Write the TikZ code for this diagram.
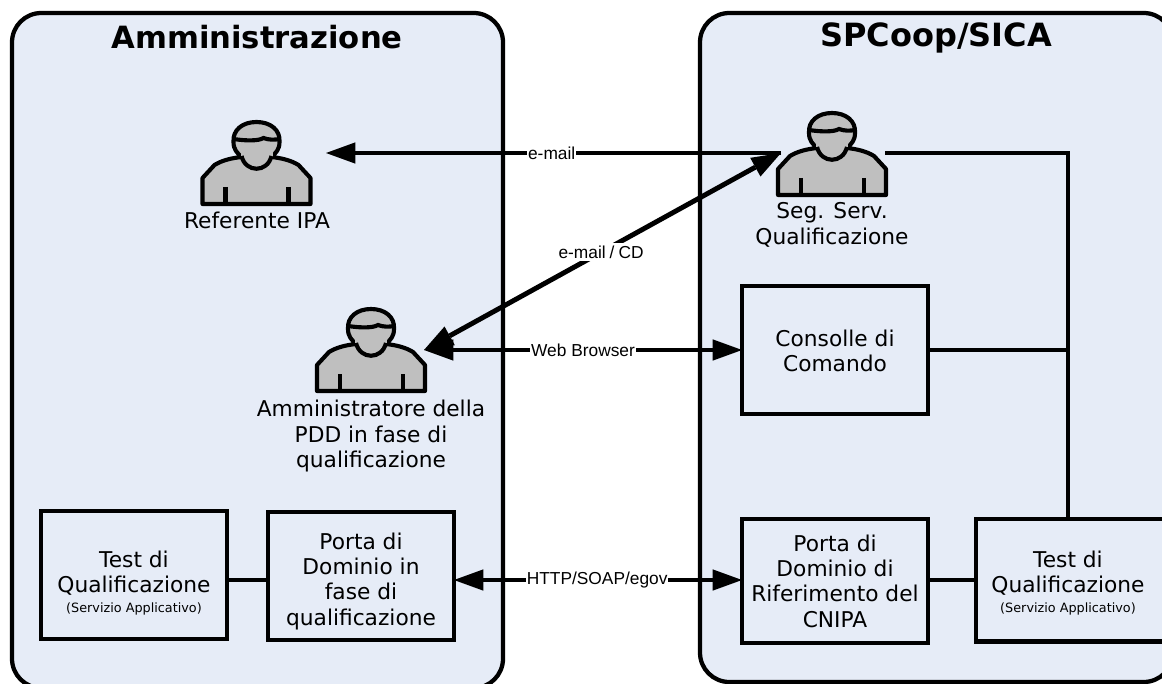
\documentclass[tikz,border=0pt]{standalone}
\usepackage{fontspec}
\setmainfont{DejaVu Sans}
\newfontfamily\labelfont{Liberation Sans}
\usetikzlibrary{arrows.meta}
\definecolor{panelfill}{HTML}{E6ECF7}
\definecolor{persongray}{HTML}{BFBFBF}
\newcommand{\smalltxt}{\fontsize{9.6}{11}\selectfont}
\tikzset{
  x=0.75pt,y=-0.75pt,
  panel/.style={draw=black,line width=3.2pt,fill=panelfill,rounded corners=22pt},
  boxnode/.style={draw=black,line width=3.5pt,fill=panelfill,anchor=north west,inner sep=0pt,outer sep=0pt},
  boxtext/.style={align=center,inner sep=0pt,font=\fontsize{16.3}{19}\selectfont},
  wire/.style={line width=3.7pt,line cap=butt},
  oneway/.style={wire,-{Triangle[length=22pt,width=16pt,line width=0pt]}},
  twoway/.style={wire,{Triangle[length=22pt,width=16pt,line width=0pt]}-{Triangle[length=22pt,width=16pt,line width=0pt]}},
  linklabel/.style={fill=white,inner xsep=0.5pt,inner ysep=1.2pt,font=\labelfont\fontsize{13}{15}\selectfont},
  caption/.style={align=center,font=\fontsize{16.3}{19}\selectfont,inner sep=0pt},
  title/.style={font=\bfseries\fontsize{23}{27}\selectfont,inner sep=0pt,anchor=base},
}
\newcommand{\persondraw}[2]{%
  \begin{scope}[shift={(#1,#2)}]
    \draw[line width=3.1pt,line join=round,fill=persongray]
      (-54,104) -- (-54,78) -- (-42,65) .. controls (-34,60) and (-24,58) .. (-15,57)
      .. controls (-19,53) and (-23,50) .. (-23,42)
      .. controls (-24,30) and (-14,22) .. (0,22)
      .. controls (14,22) and (24,30) .. (23,42)
      .. controls (23,50) and (19,53) .. (15,57)
      .. controls (24,58) and (34,60) .. (42,65) -- (54,78) -- (54,104) -- cycle;
    \fill[persongray] (-16,52) rectangle (16,60);
    \draw[line width=3.1pt,fill=persongray]
      (-15,56) .. controls (-11,73) and (11,73) .. (15,56);
    \draw[line width=3.1pt] (-23,39) .. controls (-10,41) and (2,41) .. (7,38) .. controls (12,40) and (18,40) .. (23,39);
    \draw[line width=3.1pt] (-31,87) -- (-31,104) (32,87) -- (32,104);
  \end{scope}}
\begin{document}
\begin{tikzpicture}
\useasboundingbox (0,0) rectangle (1162,684);
\clip (0,0) rectangle (1162,684);
\draw[panel] (12,13) rectangle (503,688);
\draw[panel] (700,13) rectangle (1173,682);
\node[title] (ta) at (257,49) {Amministrazione};
\node[title,font=\bfseries\fontsize{24}{27}\selectfont] (ts) at (936,47) {SPCoop/SICA};

\persondraw{256.5}{100}
\persondraw{371}{287}
\persondraw{832}{91}

\node[caption] (c1) at (257,220) {Referente IPA};
\node[caption] (c2) at (371,436) {Amministratore della\\PDD in fase di\\qualificazione};
\node[caption] (c3) at (832,225) {Seg. Serv.\\Qualificazione};

\node[boxnode,minimum width=139.5pt,minimum height=96pt] (tl) at (41,511) {};
\node[boxnode,minimum width=139.5pt,minimum height=96pt] (pd) at (268,512) {};
\node[boxnode,minimum width=139.5pt,minimum height=96pt] (cc) at (742,286) {};
\node[boxnode,minimum width=139.5pt,minimum height=93pt] (pr) at (742,519) {};
\node[boxnode,minimum width=142pt,minimum height=92pt] (tr) at (976,519) {};

\node[boxtext] (tlt) at (134,583) {Test di\\Qualificazione\\[-4pt]{\smalltxt (Servizio Applicativo)}};
\node[boxtext] (pdt) at (361,581) {Porta di\\Dominio in\\fase di\\qualificazione};
\node[boxtext] (cct) at (835,351) {Consolle di\\Comando};
\node[boxtext] (prt) at (835,581) {Porta di\\Dominio di\\Riferimento del\\CNIPA};
\node[boxtext] (trt) at (1068,583) {Test di\\Qualificazione\\[-4pt]{\smalltxt (Servizio Applicativo)}};

\coordinate (pa) at (326,153);
\coordinate (ps) at (781,153);
\coordinate (pg) at (424,350);
\coordinate (pw) at (885,153);
\coordinate (j1) at (1068,153);
\coordinate (j2) at (1068,350);

\draw[oneway] (ps) -- (pa) node[linklabel,pos=0.504] (l1) {e-mail};
\draw[twoway] (pg) -- (ps) node[linklabel,pos=0.496,inner ysep=2pt] (l2) {e-mail\hspace{3pt}/\hspace{3pt}CD};
\draw[twoway] (pg) -- (pg -| cc.west) node[linklabel,pos=0.5] (l3) {Web Browser};
\draw[twoway] (pd.east |- 0,580) -- (pr.west |- 0,580) node[linklabel,pos=0.497] (l4) {HTTP/SOAP/egov};

\draw[wire] (pw) -- (j1) -- (j1 |- tr.north);
\draw[wire] (j2 -| cc.east) -- (j2);
\draw[wire] (tl.east |- 0,580) -- (pd.west |- 0,580);
\draw[wire] (pr.east |- 0,580) -- (tr.west |- 0,580);
\end{tikzpicture}
\end{document}
